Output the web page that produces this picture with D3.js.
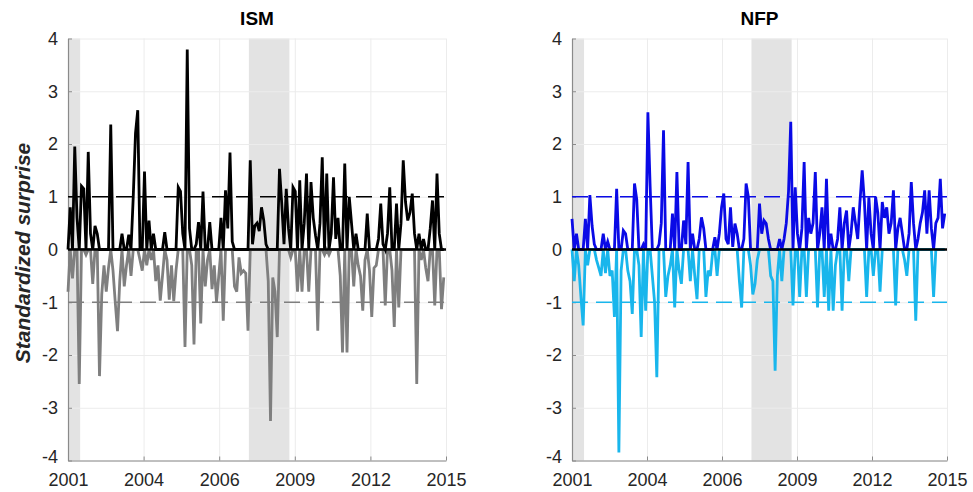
<!DOCTYPE html>
<html>
<head>
<meta charset="utf-8">
<script src="https://cdn.jsdelivr.net/npm/d3@7"></script>
<style>
  body { margin: 0; background: #fff; }
  text { font-family: "Liberation Sans", Arial, sans-serif; }
</style>
</head>
<body>
<svg id="chart"></svg>
<script>
//constants
const W = 973, H = 492;
const yTop = 38.5, yBottom = 460.5;

//data (standardized surprises, monthly from Jan 2001)
const startYear = 2001;
const ism = [
  -0.8, 0.8, -0.55, 1.95, 0.6, -2.55, 1.2, 1.15, -0.1, 1.85, 0.3, -0.65,
  0.45, 0.3, -2.4, -0.85, -0.3, -0.8, -0.35, 2.37, -0.4, -1.0, -1.55, -0.6,
  0.3, -0.7, -0.3, 0.28, -0.5, 1.0, 2.2, 2.64, -0.2, -0.4, 1.48, -0.3,
  0.55, -0.2, 0.3, -0.6, -0.3, -0.97, -0.5, 0.33, -0.2, -0.95, -0.3, -0.98,
  -0.4, 1.18, 1.1, 0.3, -1.85, 3.79, 0.4, -0.3, -1.8, 0.1, 0.52, -1.4,
  1.1, -0.7, -0.2, 0.52, -0.75, -0.3, -1.0, -0.5, 0.6, -1.35, 1.12, 0.4,
  1.84, 0.15, -0.7, -0.8, -0.15, -0.45, -0.4, -0.45, -1.54, 1.69, 0.1, 0.45,
  0.5, 0.35, 0.8, 0.55, 0.1, -0.6, -3.25, -0.53, -0.8, -1.66, 1.53, 0.87,
  0.1, 1.15, 0.4, -0.15, 1.18, 1.1, -0.8, 1.31, -0.8, 0.5, 1.44, -0.8,
  1.28, 0.6, 0.27, -1.54, 0.5, 1.75, -0.1, 1.44, -0.1, 0.3, 1.37, 0.2,
  0.6, -0.5, -1.95, 1.63, -1.95, 1.0, 0.5, -0.7, 0.3, -0.3, -0.5, -1.16,
  -0.2, 0.68, -0.4, -1.28, -0.35, -0.3, 0.2, 0.87, 0.1, -1.06, 0.3, 1.18,
  -0.4, -1.47, 0.87, -1.1, 0.5, 1.69, 0.9, 0.55, 0.7, 1.06, 0.3, -2.55,
  0.3, -0.2, 0.2, -0.35, -0.6, 0.4, 0.93, -1.06, 1.44, 0.3, -1.13, -0.53
];
const nfp = [
  0.58, -0.6, 0.3, -0.3, -0.9, -1.44, 0.58, -0.3, 1.03, 0.45, 0.1, -0.2,
  -0.35, -0.5, 0.3, -0.45, 0.15, -0.5, -0.4, -1.28, 1.15, -3.85, -0.4, 0.36,
  0.3, -0.4, -0.6, -1.22, 1.25, 0.95, -0.3, -1.66, 0.1, -1.16, 2.6, 1.2,
  -0.5, -1.0, -2.42, 0.1, 0.5, 2.26, -0.9, -0.5, -0.3, 0.68, -1.1, 1.47,
  -0.4, -0.65, 0.55, 0.1, 1.66, -0.6, 0.3, -0.5, -0.94, 0.2, 0.61, 0.4,
  -0.9, -0.4, -0.5, -0.05, 0.23, -0.5, 0.3, 0.8, 1.06, 0.2, 0.1, 0.8,
  0.05, 0.49, 0.3, -0.6, -1.1, 0.2, 1.25, 1.0, -0.3, -0.85, -0.65, -0.2,
  0.87, 0.3, 0.55, 0.49, 0.2, -0.5, -0.6, -2.3, -0.5, 0.2, -0.6, 0.2,
  0.5, 1.1, 2.42, -1.06, 1.18, 0.3, -0.9, 0.4, 1.66, -0.9, 0.6, 0.3,
  0.5, 1.47, -1.1, 0.3, 0.8, -0.9, 1.34, -1.16, 0.3, -1.16, -0.3, 0.2,
  0.8, -1.16, 0.5, 0.74, -0.6, 0.3, 0.8, 0.5, 0.2, 0.9, 1.5, 0.9,
  -0.9, 0.99, 0.3, -0.5, 1.0, 0.7, -0.8, 0.9, 0.6, 0.8, 0.3, 0.5,
  1.12, -1.06, 0.4, 0.6, 0.3, -0.2, -0.5, 0.3, 1.28, 0.5, -1.35, 0.2,
  0.5, 0.7, 1.12, 0.3, 1.12, 0.4, -0.9, 0.5, 0.6, 1.34, 0.4, 0.68
];

//recession bands (decimal years) and axis ticks
const recessions = [[2001.0, 2001.45], [2007.7, 2009.2]];
const xTickLabels = ["2001", "2004", "2006", "2009", "2012", "2015"];
const yTicks = [-4, -3, -2, -1, 0, 1, 2, 3, 4];

const panels = [
  {title: "ISM", values: ism, x0: 68, x1: 446, pos: "#000000", neg: "#7f7f7f"},
  {title: "NFP", values: nfp, x0: 572, x1: 947, pos: "#0a0ae6", neg: "#19b6ec"}
];

const svg = d3.select("#chart")
  .attr("width", W)
  .attr("height", H)
  .style("background-color", "#fff");

function drawPanel(p) {
  const xScale = d3.scaleLinear().domain([2001, 2015]).range([p.x0, p.x1]);
  const yScale = d3.scaleLinear().domain([-4, 4]).range([yBottom, yTop]);
  const tickPos = xTickLabels.map((d, i) => 2001 + i * 14 / (xTickLabels.length - 1));

  const g = svg.append("g");

  //recession shading
  g.selectAll(".rec")
    .data(recessions)
    .enter()
    .append("rect")
    .attr("x", d => xScale(d[0]))
    .attr("y", yTop)
    .attr("width", d => xScale(d[1]) - xScale(d[0]))
    .attr("height", yBottom - yTop)
    .style("fill", "#e3e3e3");

  //grid
  g.append("g")
    .call(d3.axisLeft(yScale).tickValues(yTicks).tickSize(-(p.x1 - p.x0)).tickFormat(""))
    .attr("transform", "translate(" + p.x0 + ",0)")
    .call(a => a.select(".domain").remove())
    .call(a => a.selectAll("line").attr("stroke", "#ececec"));

  g.append("g")
    .call(d3.axisBottom(xScale).tickValues(tickPos).tickSize(-(yBottom - yTop)).tickFormat(""))
    .attr("transform", "translate(0," + yBottom + ")")
    .call(a => a.select(".domain").remove())
    .call(a => a.selectAll("line").attr("stroke", "#ececec"));

  //axes
  const gY = g.append("g")
    .attr("transform", "translate(" + p.x0 + ",0)")
    .call(d3.axisLeft(yScale).tickValues(yTicks).tickSize(-4).tickPadding(10).tickSizeOuter(0)
      .tickFormat(d => String(d)));
  gY.select(".domain").attr("stroke", "#8a8a8a").attr("stroke-width", 1.2);
  gY.selectAll("line").attr("stroke", "#8a8a8a");
  gY.selectAll("text").style("font-size", "18px").attr("fill", "#262626");
  //lift the bottom label a little so it clears the year labels
  gY.selectAll("text").filter(d => d === -4).attr("dy", "0.1em");

  const gX = g.append("g")
    .attr("transform", "translate(0," + yBottom + ")")
    .call(d3.axisBottom(xScale).tickValues(tickPos).tickSize(-4).tickPadding(13).tickSizeOuter(0)
      .tickFormat((d, i) => xTickLabels[i]));
  gX.select(".domain").attr("stroke", "#8a8a8a").attr("stroke-width", 1.2);
  gX.selectAll("line").attr("stroke", "#8a8a8a");
  gX.selectAll("text").style("font-size", "18px").attr("fill", "#262626");

  //threshold lines
  g.append("line")
    .attr("x1", p.x0).attr("x2", p.x1)
    .attr("y1", yScale(1)).attr("y2", yScale(1))
    .attr("stroke", p.pos).attr("stroke-width", 1.6)
    .attr("stroke-dasharray", "16,8");
  g.append("line")
    .attr("x1", p.x0).attr("x2", p.x1)
    .attr("y1", yScale(-1)).attr("y2", yScale(-1))
    .attr("stroke", p.neg).attr("stroke-width", 1.6)
    .attr("stroke-dasharray", "16,8");

  //series
  const line = d3.line()
    .x((d, i) => xScale(startYear + i / 12))
    .y(d => yScale(d));

  g.append("path")
    .datum(p.values.map(v => Math.min(v, 0)))
    .attr("d", line)
    .attr("fill", "none")
    .attr("stroke", p.neg)
    .attr("stroke-width", 2.8);

  g.append("path")
    .datum(p.values.map(v => Math.max(v, 0)))
    .attr("d", line)
    .attr("fill", "none")
    .attr("stroke", p.pos)
    .attr("stroke-width", 2.8);

  //zero line
  g.append("line")
    .attr("x1", p.x0).attr("x2", p.x1)
    .attr("y1", yScale(0)).attr("y2", yScale(0))
    .attr("stroke", "#000").attr("stroke-width", 2.6);

  //title
  g.append("text")
    .attr("x", (p.x0 + p.x1) / 2)
    .attr("y", 25)
    .style("text-anchor", "middle")
    .style("font-size", "19px")
    .style("font-weight", "bold")
    .text(p.title);
}

panels.forEach(drawPanel);

//y label
svg.append("text")
  .attr("transform", "translate(30,253) rotate(-90)")
  .style("text-anchor", "middle")
  .style("font-size", "21px")
  .style("font-weight", "bold")
  .style("font-style", "italic")
  .attr("fill", "#262626")
  .text("Standardized surprise");
</script>
</body>
</html>
